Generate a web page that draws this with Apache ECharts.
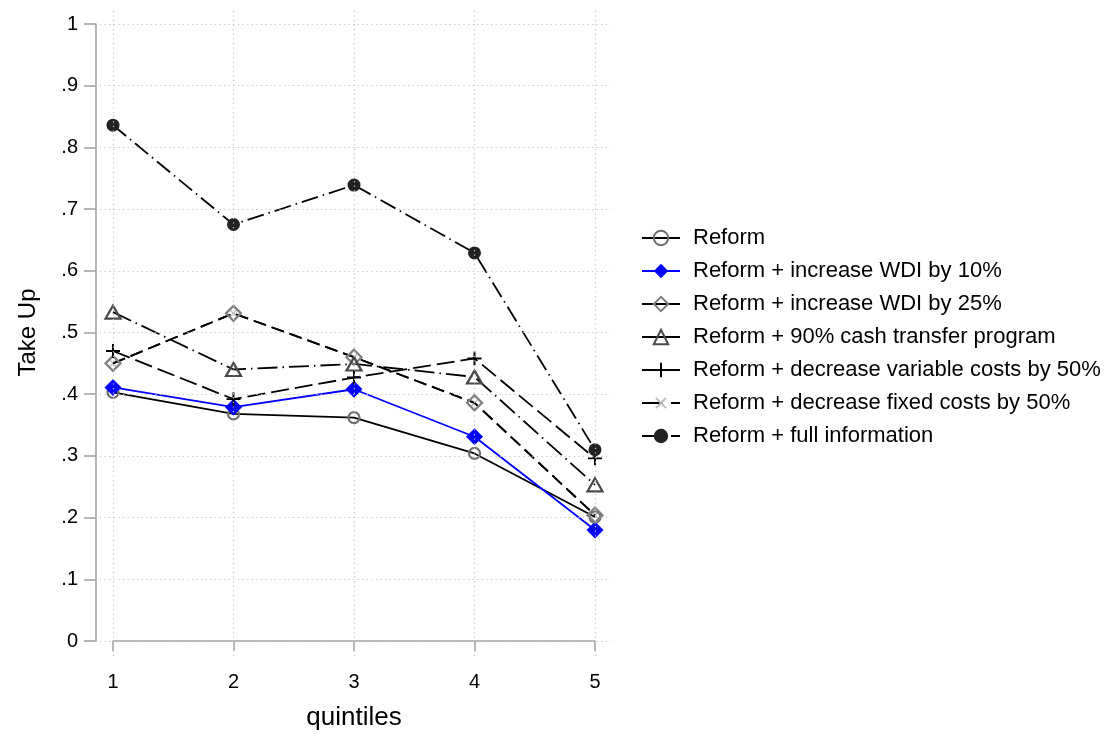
<!DOCTYPE html>
<html>
<head>
<meta charset="utf-8">
<script src="https://cdn.jsdelivr.net/npm/echarts@6/dist/echarts.min.js"></script>
<style>
  html, body { margin: 0; padding: 0; background: #ffffff; }
  #chart { width: 1111px; height: 738px; }
</style>
</head>
<body>
<div id="chart"></div>
<script>
// Quintile categories and tick labels
const quintiles = [1, 2, 3, 4, 5];
const yTicks = [0, 0.1, 0.2, 0.3, 0.4, 0.5, 0.6, 0.7, 0.8, 0.9, 1];
const yTickLabels = ['0', '.1', '.2', '.3', '.4', '.5', '.6', '.7', '.8', '.9', '1'];

// Take-up rate by quintile for each scenario
const reform        = [0.403, 0.368, 0.362, 0.304, 0.201];
const wdi10         = [0.411, 0.379, 0.408, 0.331, 0.180];
const wdi25         = [0.450, 0.531, 0.460, 0.386, 0.204];
const cashTransfer  = [0.533, 0.440, 0.449, 0.428, 0.253];
const variableCosts = [0.470, 0.392, 0.427, 0.458, 0.296];
const fixedCosts    = [0.450, 0.531, 0.460, 0.386, 0.204];
const fullInfo      = [0.836, 0.675, 0.739, 0.629, 0.310];

const names = [
  'Reform',
  'Reform + increase WDI by 10%',
  'Reform + increase WDI by 25%',
  'Reform + 90% cash transfer program',
  'Reform + decrease variable costs by 50%',
  'Reform + decrease fixed costs by 50%',
  'Reform + full information'
];

const FONT = 'Liberation Sans, Arial, Helvetica, sans-serif';
const AXIS_GREY = '#a3a3a3';
const GRID_GREY = '#c4c4c4';

// plot frame: data range [1,5] x [0,1]; dotted grid reaches a little beyond it
const frame = { left: 113, top: 24, width: 482, height: 617 };
const pxPerX = frame.width / 4;
const pxPerY = frame.height / 1;
const ext = { left: 13, right: 16, top: 15, bottom: 15 };

const pairs = vals => quintiles.map((q, i) => [q, vals[i]]);
const PLUS = 'path://M4.3,0H5.7V4.3H10V5.7H5.7V10H4.3V5.7H0V4.3H4.3Z';

function lineSeries(name, vals, symbol, size, itemStyle, lineStyle, extra) {
  return Object.assign({
    name: name,
    type: 'line',
    xAxisIndex: 0,
    yAxisIndex: 0,
    data: pairs(vals),
    symbol: symbol,
    symbolSize: size,
    showSymbol: true,
    clip: false,
    itemStyle: itemStyle,
    lineStyle: Object.assign({ width: 1.8, cap: 'butt' }, lineStyle),
    emphasis: { disabled: true }
  }, extra || {});
}

const hollow = c => ({ color: 'rgba(255,255,255,0)', borderColor: c, borderWidth: 2.2 });

// legend keys: short solid strokes, the two dash-dot scenarios show a break
const keySolid = { type: 'solid', width: 2 };
const keyBroken = { type: [21, 8, 9], width: 2 };
const legendKeys = [keySolid, keySolid, keySolid, keySolid, keySolid, keyBroken, keyBroken];

const option = {
  animation: false,
  backgroundColor: '#ffffff',
  textStyle: { fontFamily: FONT, color: '#000' },
  grid: [
    Object.assign({}, frame),
    {
      left: frame.left - ext.left,
      top: frame.top - ext.top,
      width: frame.width + ext.left + ext.right,
      height: frame.height + ext.top + ext.bottom
    }
  ],
  xAxis: [
    {
      gridIndex: 0, type: 'value', min: 1, max: 5, interval: 1,
      offset: 18,
      name: 'quintiles', nameLocation: 'middle', nameGap: 46,
      nameTextStyle: { fontSize: 26, color: '#000', fontFamily: FONT },
      axisLine: { show: true, lineStyle: { color: AXIS_GREY, width: 1.6 } },
      axisTick: { show: true, length: 10, lineStyle: { color: AXIS_GREY, width: 1.6 } },
      axisLabel: { fontSize: 20, color: '#000', margin: 13, fontFamily: FONT },
      splitLine: { show: false }
    },
    {
      gridIndex: 1, type: 'value',
      min: 1 - ext.left / pxPerX, max: 5 + ext.right / pxPerX,
      show: false
    }
  ],
  yAxis: [
    {
      gridIndex: 0, type: 'value', min: 0, max: 1, interval: 0.1,
      offset: 17,
      name: 'Take Up', nameLocation: 'middle', nameGap: 56, nameRotate: 90,
      nameTextStyle: { fontSize: 24, color: '#000', fontFamily: FONT },
      axisLine: { show: true, lineStyle: { color: AXIS_GREY, width: 1.6 } },
      axisTick: { show: true, length: 12, lineStyle: { color: AXIS_GREY, width: 1.6 } },
      axisLabel: {
        fontSize: 20, color: '#000', margin: 18, fontFamily: FONT,
        formatter: v => {
          const i = yTicks.findIndex(t => Math.abs(t - v) < 1e-9);
          return i >= 0 ? yTickLabels[i] : '';
        }
      },
      splitLine: { show: false }
    },
    {
      gridIndex: 1, type: 'value',
      min: 0 - ext.bottom / pxPerY, max: 1 + ext.top / pxPerY,
      show: false
    }
  ],
  legend: {
    orient: 'vertical',
    left: 636,
    top: 222,
    itemWidth: 38,
    itemHeight: 18,
    itemGap: 11,
    data: names.map((n, i) => ({ name: n, lineStyle: legendKeys[i] })),
    selectedMode: false,
    textStyle: { fontSize: 22, color: '#000', fontFamily: FONT, padding: [0, 0, 0, 8] }
  },
  series: [
    // dotted grid lines
    {
      type: 'line', xAxisIndex: 1, yAxisIndex: 1, data: [], z: 0, silent: true,
      markLine: {
        silent: true, symbol: 'none', animation: false,
        label: { show: false },
        lineStyle: { color: GRID_GREY, width: 1.2, type: [1.2, 3.4] },
        emphasis: { disabled: true },
        data: quintiles.map(q => ({ xAxis: q })).concat(yTicks.map(t => ({ yAxis: t })))
      }
    },
    lineSeries(names[5], fixedCosts, PLUS, 9,
      { color: '#bdbdbd' }, { color: '#000', type: [13, 6] }, { symbolRotate: 45, z: 1 }),
    lineSeries(names[0], reform, 'circle', 11,
      hollow('#6e6e6e'), { color: '#000' }),
    lineSeries(names[1], wdi10, 'diamond', [17, 17],
      { color: '#0000ff' }, { color: '#0000ff' }),
    lineSeries(names[2], wdi25, 'diamond', [15, 15],
      hollow('#7f7f7f'), { color: '#000', type: [13, 6] }),
    lineSeries(names[3], cashTransfer, 'triangle', [15, 13],
      hollow('#4a4a4a'), { color: '#000', type: [20, 5, 1.5, 5] }),
    lineSeries(names[4], variableCosts, PLUS, 14,
      { color: '#000' }, { color: '#000', type: [18, 6] }),
    lineSeries(names[6], fullInfo, 'circle', 13,
      { color: '#222222' }, { color: '#000', type: [17, 5, 1.5, 5] })
  ]
};

const chart = echarts.init(document.getElementById('chart'), null, { renderer: 'canvas' });
chart.setOption(option);
</script>
</body>
</html>
